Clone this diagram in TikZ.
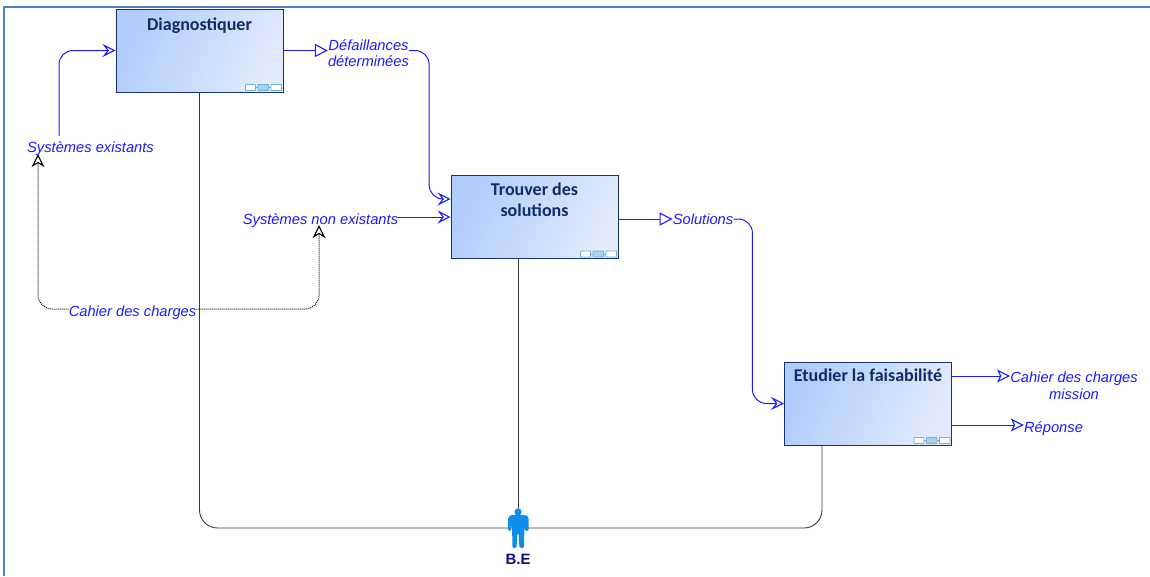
\documentclass[tikz,border=0pt]{standalone}
\usepackage{fontspec}
\setmainfont{Liberation Sans}
\newfontfamily\titlefont{Carlito}
\usetikzlibrary{arrows.meta}
\definecolor{frameblue}{HTML}{4F81BD}
\definecolor{boxedge}{HTML}{17336F}
\definecolor{boxa}{HTML}{B0CCFB}
\definecolor{boxb}{HTML}{E2EBFD}
\definecolor{titleblue}{HTML}{0F2C66}
\definecolor{flowblue}{HTML}{1A1AFF}
\definecolor{chainedge}{HTML}{70B0D8}
\definecolor{chainfill}{HTML}{A9D3EA}
\definecolor{personblue}{HTML}{0E8EE9}
\definecolor{personname}{HTML}{10107F}
\definecolor{mech}{HTML}{3A3A3A}
\tikzset{
  x=1pt,y=-1pt,
  procbox/.style={draw=boxedge,line width=1pt,minimum width=167pt,minimum height=83pt,inner sep=0pt,
    left color=boxa,right color=boxb,shading angle=65},
  proctitle/.style={font=\titlefont\bfseries\fontsize{18}{21}\selectfont,text=titleblue,align=center,anchor=north,inner sep=0pt},
  flowlabel/.style={font=\itshape\fontsize{14.7}{16.5}\selectfont,text=flowblue,align=center,inner sep=0pt},
  flow/.style={draw=flowblue,line width=1pt,rounded corners=14pt},
  inflow/.style={flow,-{Stealth[open,length=13pt,width=13pt,inset=5pt,line width=1.1pt]}},
  outflow/.style={flow,-{Stealth[open,length=13pt,width=13pt,inset=0pt,line width=1.1pt]}},
  outflowb/.style={flow,-{Stealth[open,length=13pt,width=13pt,inset=3pt,line width=1.1pt]}},
  callflow/.style={draw=black,line width=1pt,dash pattern=on 1pt off 1pt,rounded corners=14pt},
  callend/.style={callflow,-{Stealth[open,length=13pt,width=13pt,inset=4pt,line width=1.1pt]}},
  mechline/.style={draw=mech,line width=0.9pt,rounded corners=18pt},
  chainlink/.style={draw=chainedge,line width=0.9pt,fill=white,rounded corners=0.6pt},
  chain/.pic={
    \draw[chainedge,line width=1pt] (-36,-5) -- (-4,-5);
    \path[chainlink] (-38,-8) rectangle (-28,-2);
    \path[chainlink,fill=chainfill] (-25.5,-8) rectangle (-15,-2);
    \path[chainlink] (-12.5,-8) rectangle (-2,-2);
  }
}
\begin{document}
\begin{tikzpicture}
\useasboundingbox (0,0) rectangle (1150,576);
\draw[frameblue,line width=2pt] (4,576) -- (4,7) -- (1150,7);

% process boxes
\node[procbox] (diag) at (199.5,50.5) {};
\node[procbox] (trou) at (534.5,217) {};
\node[procbox] (etud) at (868,403.5) {};
\node[proctitle] (diagT) at (199.5,18) {Diagnostiquer};
\node[proctitle] (trouT) at (534.5,183) {Trouver des\\solutions};
\node[proctitle] (etudT) at (868,369) {Etudier la faisabilité};
\path (diag.south east) pic {chain};
\path (trou.south east) pic {chain};
\path (etud.south east) pic {chain};

% flow labels
\node[flowlabel] (sysex) at (90.5,149) {Systèmes existants};
\node[flowlabel] (sysnon) at (320.5,221) {Systèmes non existants};
\node[flowlabel] (cahier) at (132.5,313) {Cahier des charges};
\node[flowlabel] (defa) at (368.5,53) {Défaillances\\déterminées};
\node[flowlabel] (solu) at (703,219) {Solutions};
\node[flowlabel] (cmiss) at (1074,385.5) {Cahier des charges\\mission};
\node[flowlabel] (repo) at (1053.5,429) {Réponse};

% person
\node[minimum width=22pt,minimum height=40pt,inner sep=0pt] (person) at (518,528) {};
\node[font=\bfseries\fontsize{15}{17}\selectfont,text=personname,inner sep=0pt] (bename) at (518,559) {B.E};

% mechanism lines
\path[mechline] (diag.south) |- (person.center);
\path[mechline] (etud.south -| 822,0) |- (person.center);
\path[mechline] (trou.south -| person.center) -- (person.center);

% person figure
\fill[personblue] (518,512) circle (3.6);
\fill[personblue,rounded corners=1.5pt] (511,515) -- (526,515) -- (528.5,517) -- (528.5,531) -- (525,531) -- (524.5,524)
  -- (524,548) -- (519.5,548) -- (518.5,533) -- (517.5,533) -- (516.5,548) -- (512.5,548) -- (512,524) -- (511,531) -- (508,531) -- (508,517) -- cycle;

% flows
\path[inflow] ([xshift=-31.5pt,yshift=6pt]sysex.north) |- (diag.west);
\path[outflow] (diag.east) -- (diag.east -| defa.west);
\path[inflow] (defa.east |- diag.east) -- ++(20,0) |- ([yshift=18pt]trou.west);
\path[inflow] (sysnon.east |- trou.west) -- (trou.west);
\path[outflow] ([yshift=-2pt]trou.east) -- (solu.west);
\path[inflow] (solu.east) -- ++(19,0) |- (etud.west);
\path[outflowb] ([yshift=27.5pt]etud.east) -- ([yshift=9.5pt]cmiss.west);
\path[outflowb] ([yshift=-21.5pt]etud.east) -- ([yshift=4pt]repo.west);

% dotted calls
\path[callend] ([yshift=4pt]cahier.west) -| ([xshift=-52.5pt,yshift=2pt]sysex.south);
\path[callend] ([yshift=4pt]cahier.east) -| ([xshift=-1.5pt,yshift=3pt]sysnon.south);
\end{tikzpicture}
\end{document}
